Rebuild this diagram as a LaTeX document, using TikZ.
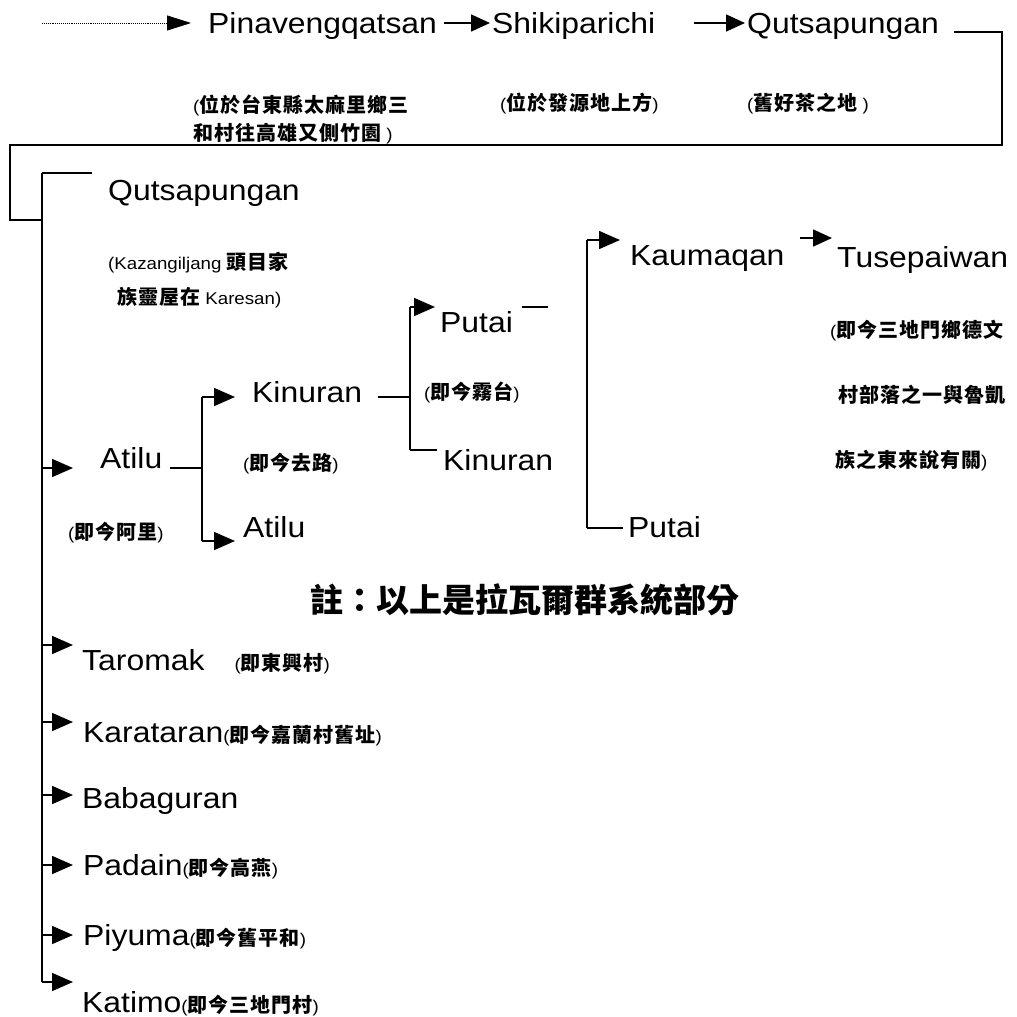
\documentclass[tikz,border=0pt]{standalone}
\usepackage{fontspec}
\usepackage{graphicx}
\usetikzlibrary{arrows.meta}
\setmainfont{Liberation Sans}
\newfontfamily\latf[FakeStretch=1.1]{Liberation Sans}
\newfontfamily\cjkf[LetterSpace=5]{Noto Sans CJK TC}
\newfontfamily\cjknote{Noto Sans CJK TC}
\newcommand\xLat{\latf\fontsize{29}{29}\selectfont}
\newcommand\xSm{\latf\fontsize{17}{17}\selectfont}
\newcommand\xCjk{\cjkf\bfseries\fontsize{20}{20}\selectfont}
\newcommand\xNote{\cjknote\bfseries\fontsize{33}{33}\selectfont}
\newcommand\cj[1]{{\xCjk #1}}
\newcommand\lpar{{\xSm(}}
\newcommand\rpar{{\xSm)}}
\tikzset{
  lat/.style={font=\xLat, inner sep=0pt, text height=21pt, text depth=0pt, anchor=west},
  memo/.style={inner sep=0pt, text height=14.5pt, text depth=0pt, anchor=west, font=\xSm},
  ln/.style={line width=1.6pt},
  arr/.style={ln, -{Triangle[length=21pt,width=18pt]}},
  arrs/.style={ln, -{Triangle[length=19pt,width=17pt]}},
  dotline/.style={line width=0.9pt, densely dotted, -{Triangle[length=24pt,width=15pt]}},
}
\begin{document}
\begin{tikzpicture}[x=1pt,y=-1pt]
\useasboundingbox[fill=white] (0,0) rectangle (1017,1017);

% ---------- row 1
\coordinate (start) at (42,23);
\node[lat] (pin) at (208,23) {Pinavengqatsan};
\node[lat] (shi) at (492,23) {Shikiparichi};
\node[lat] (qu1) at (747,23) {Qutsapungan};
\draw[dotline, shorten >=17pt] (start) -- (pin.west);
\draw[arrs, shorten <=7pt, shorten >=2pt] (pin.east) -- (shi.west);
\draw[arrs, shorten <=38pt, shorten >=2pt] (shi.east) -- (qu1.west);

\node[memo] (m1a) at (193,105) {\lpar\cj{位於台東縣太麻里鄉三}};
\node[memo] (m1b) at (193,133) {\cj{和村往高雄又側竹園} \rpar};
\node[memo] (m2) at (500,103) {\lpar\cj{位於發源地上方}\rpar};
\node[memo] (m3) at (747,103) {\lpar\cj{舊好茶之地} \rpar};

% ---------- bracket to trunk
\coordinate (c1) at (1002,145);
\coordinate (c2) at (10,220);
\coordinate (tt) at (42,173);
\coordinate (tb) at (42,982);
\coordinate (tj) at (42,220);
\draw[ln] ([xshift=15pt,yshift=-9pt]qu1.east) -| (c1) -| (c2) -- (tj);
\draw[ln] (tt) -- (tb);

% ---------- Qutsapungan 2
\node[lat] (qu2) at (108,190) {Qutsapungan};
\coordinate (qt) at (92,173);
\draw[ln] (tt) -- (qt);
\node[memo] (m4a) at (108,262) {(Kazangiljang \cj{頭目家}};
\node[memo] (m4b) at (117,297) {\cj{族靈屋在} Karesan)};

% ---------- Atilu branch
\node[lat] (at1) at (100,458) {Atilu};
\coordinate (tA) at (42,468);
\draw[arr, shorten >=27pt] (tA) -- (tA -| at1.west);
\node[memo] (m5) at (68,532) {\lpar\cj{即今阿里}\rpar};
\node[lat] (ki1) at (252,392) {Kinuran};
\node[lat] (at2) at (243,527) {Atilu};
\node[memo] (m6) at (243,463) {\lpar\cj{即今去路}\rpar};
\coordinate (aJ) at (202,468);
\coordinate (aT) at (202,397);
\coordinate (aB) at (202,541);
\draw[ln] ([xshift=8pt]at1.east |- aJ) -- (aJ);
\draw[ln] (aT) -- (aB);
\draw[arr, shorten >=17pt] (aT) -- (aT -| ki1.west);
\draw[arr, shorten >=8pt] (aB) -- (aB -| at2.west);

% ---------- Kinuran branch
\node[lat] (pu1) at (440,322) {Putai};
\node[lat] (ki2) at (443,460) {Kinuran};
\node[memo] (m7) at (424,392) {\lpar\cj{即今霧台}\rpar};
\coordinate (kJ) at (410,397);
\coordinate (kT) at (410,307);
\coordinate (kB) at (410,450);
\draw[ln] ([xshift=16pt]ki1.east |- kJ) -- (kJ);
\draw[ln] (kT) -- (kB);
\draw[arr, shorten >=5pt] (kT) -- (kT -| pu1.west);
\draw[ln, shorten >=6pt] (kB) -- (kB -| ki2.west);
\coordinate (pd) at (548,307);
\draw[ln] ([xshift=9pt]pu1.east |- pd) -- (pd);

% ---------- Putai branch
\node[lat] (kau) at (630,255) {Kaumaqan};
\node[lat] (pu2) at (628,527) {Putai};
\node[lat] (tus) at (837,257) {Tusepaiwan};
\coordinate (pT) at (587,240);
\coordinate (pB) at (587,528);
\draw[ln] (pT) -- (pB);
\draw[arr, shorten >=10pt] (pT) -- (pT -| kau.west);
\draw[ln, shorten >=5pt] (pB) -- (pB -| pu2.west);
\coordinate (kt) at (800,238);
\draw[arrs, shorten >=5pt] (kt) -- (kt -| tus.west);
\node[memo] (m8a) at (830,330) {\lpar\cj{即今三地門鄉德文}};
\node[memo] (m8b) at (838,395) {\cj{村部落之一與魯凱}};
\node[memo] (m8c) at (835,460) {\cj{族之東來說有關}\rpar};

% ---------- note
\node[anchor=west, inner sep=0pt, font=\xNote] (note) at (310,600) {註：以上是拉瓦爾群系統部分};

% ---------- lower list
\node[lat] (tar) at (82,660) {Taromak\hspace{30pt}{\xSm(}\cj{即東興村}{\xSm)}};
\node[lat] (kar) at (83,732) {Karataran\lpar\cj{即今嘉蘭村舊址}\rpar};
\node[lat] (bab) at (82,798) {Babaguran};
\node[lat] (pad) at (83,865) {Padain\lpar\cj{即今高燕}\rpar};
\node[lat] (piy) at (83,935) {Piyuma\lpar\cj{即今舊平和}\rpar};
\node[lat] (kat) at (82,1002) {Katimo\lpar\cj{即今三地門村}\rpar};
\coordinate (t1) at (42,645);
\coordinate (t2) at (42,722);
\coordinate (t3) at (42,795);
\coordinate (t4) at (42,865);
\coordinate (t5) at (42,935);
\draw[arr, shorten >=9pt] (t1) -- (t1 -| tar.west);
\draw[arr, shorten >=10pt] (t2) -- (t2 -| kar.west);
\draw[arr, shorten >=9pt] (t3) -- (t3 -| bab.west);
\draw[arr, shorten >=10pt] (t4) -- (t4 -| pad.west);
\draw[arr, shorten >=10pt] (t5) -- (t5 -| piy.west);
\draw[arr, shorten >=9pt] (tb) -- (tb -| kat.west);
\end{tikzpicture}
\end{document}
